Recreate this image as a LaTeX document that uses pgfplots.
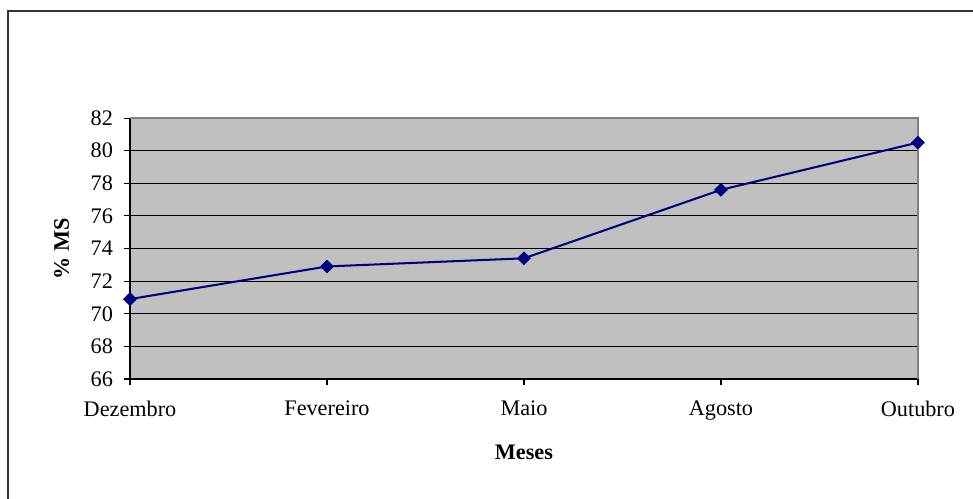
\documentclass[border=0pt]{standalone}
\usepackage{pgfplots}
\pgfplotsset{compat=1.18}
\usepackage{fontspec}
\setmainfont{Liberation Serif}
\definecolor{navy}{HTML}{000080}
\definecolor{plotgray}{HTML}{C0C0C0}
\begin{document}
\fontsize{12}{14}\selectfont
\begin{tikzpicture}
\useasboundingbox (0pt,0pt) rectangle (525.42pt,269.46pt);
\draw[line width=1.2pt,black!80] (4.32pt,0pt) -- (4.32pt,263.5pt) -- (525.42pt,263.5pt);
\begin{axis}[
  at={(70.2pt,64.8pt)}, anchor=south west,
  scale only axis,
  width=425.5pt, height=140.9pt,
  xmin=0, xmax=4, ymin=66, ymax=82,
  xtick={0,1,2,3,4},
  xticklabels={Dezembro,Fevereiro,Maio,Agosto,Outubro},
  ytick={66,68,...,82},
  axis background/.style={fill=plotgray},
  ymajorgrids, grid style={black, line width=0.6pt},
  axis line style={black, line width=0.8pt},
  separate axis lines,
  axis x line*=bottom, axis y line*=left,
  tick style={black, line width=0.6pt},
  tick align=outside,
  major tick length=3.5pt,
  xticklabel style={yshift=-4pt, font=\fontsize{12}{14}\selectfont},
  yticklabel style={xshift=-1.5pt, font=\fontsize{12}{14}\selectfont},
  /pgf/number format/assume math mode=true,
  xlabel={\textbf{Meses}},
  ylabel={\textbf{\% MS}},
  xlabel style={yshift=-5pt},
  ylabel style={yshift=3.5pt},
  clip=false,
]
\draw[gray, line width=0.8pt] (axis cs:0,82) -- (axis cs:4,82) -- (axis cs:4,66);
\addplot[color=navy, line width=1.1pt, mark=square*, mark size=2.1pt,
  mark options={rotate=45, fill=navy, draw=navy}]
  coordinates {(0,70.9) (1,72.9) (2,73.4) (3,77.6) (4,80.5)};
\end{axis}
\end{tikzpicture}
\end{document}
